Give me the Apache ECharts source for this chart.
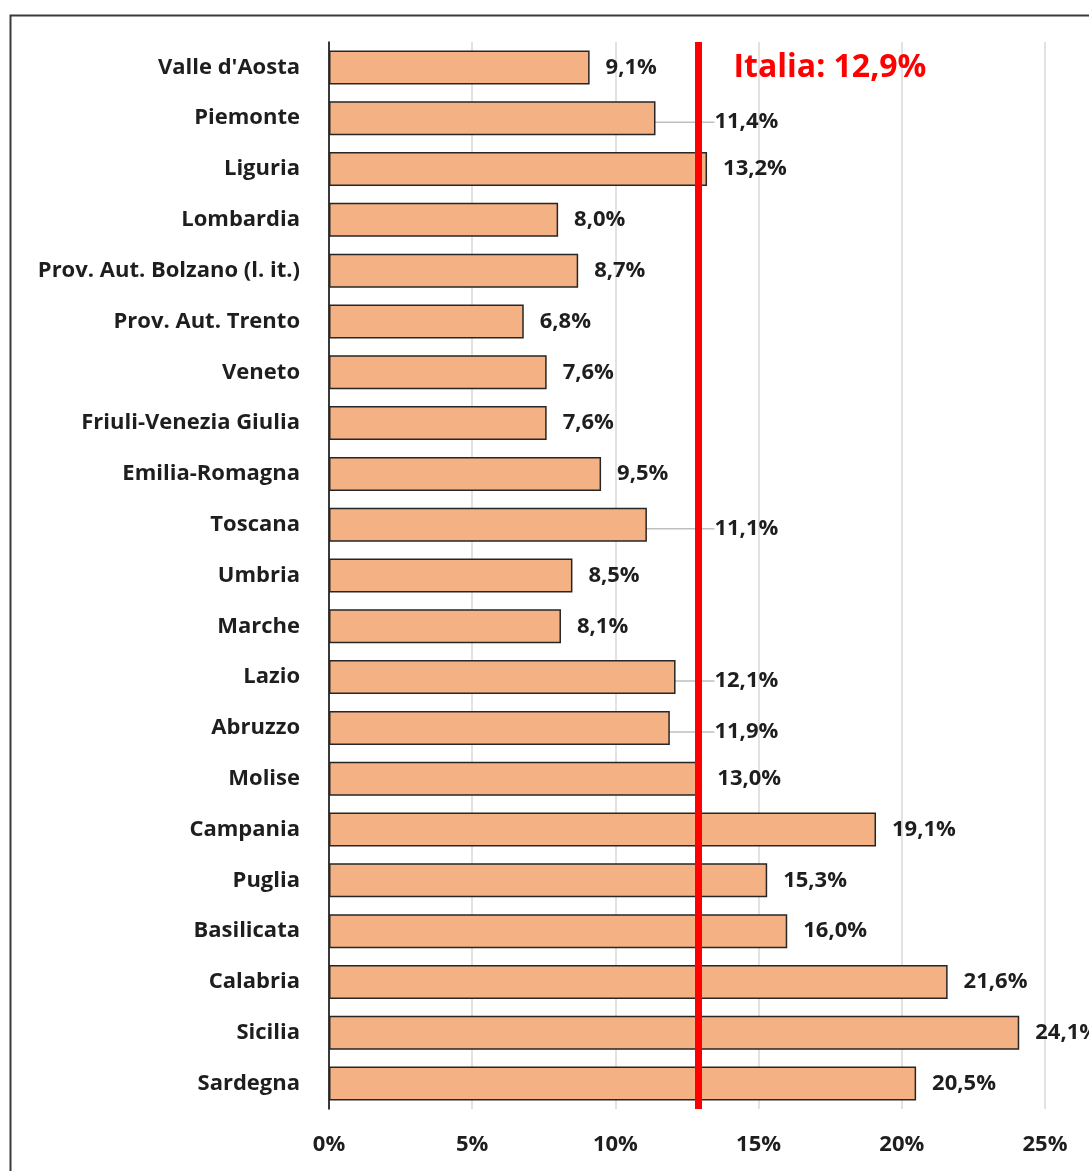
<!DOCTYPE html>
<html>
<head>
<meta charset="utf-8">
<script src="https://cdn.jsdelivr.net/npm/echarts@6/dist/echarts.min.js"></script>
<style>
  html, body { margin: 0; padding: 0; background: #ffffff; }
  #chart { width: 1089px; height: 1171px; }
</style>
</head>
<body>
<div id="chart"></div>
<script>
// Regional shares, top to bottom
const regions = [
  "Valle d'Aosta", "Piemonte", "Liguria", "Lombardia", "Prov. Aut. Bolzano (l. it.)",
  "Prov. Aut. Trento", "Veneto", "Friuli-Venezia Giulia", "Emilia-Romagna", "Toscana",
  "Umbria", "Marche", "Lazio", "Abruzzo", "Molise", "Campania", "Puglia", "Basilicata",
  "Calabria", "Sicilia", "Sardegna"
];
const shares = [
  9.1, 11.4, 13.2, 8.0, 8.7,
  6.8, 7.6, 7.6, 9.5, 11.1,
  8.5, 8.1, 12.1, 11.9, 13.0, 19.1, 15.3, 16.0,
  21.6, 24.1, 20.5
];
// National reference value
const italia = 12.9;
const italiaLabel = 'Italia: 12,9%';
// Value axis range and step (percent)
const axisMin = 0;
const axisMax = 25;
const axisStep = 5;

const FONT = '"Open Sans", "Noto Sans", sans-serif';
const TEXT = '#1e1e1e';
const FS = 22;
const fmt = v => v.toFixed(1).replace('.', ',') + '%';

// indices of value labels pushed to the right of the national line
const moved = new Set();

const chart = echarts.init(document.getElementById('chart'), null, { renderer: 'canvas' });

function barData() {
  return shares.map((v, i) => ({ value: v, labelLine: { show: moved.has(i) } }));
}

chart.setOption({
  animation: false,
  backgroundColor: '#ffffff',
  textStyle: { fontFamily: FONT },
  graphic: [{
    type: 'rect',
    left: 8, top: 13,
    shape: { width: 1200, height: 1200 },
    style: { fill: 'none', stroke: '#3a3a3a', lineWidth: 2 },
    silent: true,
    z: -10
  }],
  grid: { left: 329, right: 44, top: 42, bottom: 62, containLabel: false },
  xAxis: {
    type: 'value',
    min: axisMin, max: axisMax, interval: axisStep,
    axisLine: { show: false },
    axisTick: { show: false },
    splitLine: { show: true, lineStyle: { color: '#d9d9d9', width: 1.5 } },
    axisLabel: {
      margin: 25,
      fontFamily: FONT, fontSize: FS, fontWeight: 'bold', color: TEXT,
      formatter: v => v + '%'
    }
  },
  yAxis: {
    type: 'category',
    data: regions,
    inverse: true,
    axisLine: { show: true, lineStyle: { color: '#000000', width: 1.5 } },
    axisTick: { show: false },
    axisLabel: {
      margin: 29,
      fontFamily: FONT, fontSize: FS, fontWeight: 'bold', color: TEXT
    }
  },
  series: [{
    type: 'bar',
    data: barData(),
    barWidth: 34,
    itemStyle: { color: '#F4B183', borderColor: '#262626', borderWidth: 1.5 },
    label: {
      show: true,
      position: 'right',
      distance: 16,
      fontFamily: FONT, fontSize: FS, fontWeight: 'bold', color: TEXT,
      formatter: p => fmt(p.value)
    },
    labelLine: { lineStyle: { color: '#bfbfbf', width: 1.5 } },
    // Labels that would collide with the national line are pushed past it
    labelLayout: function (params) {
      const v = shares[params.dataIndex];
      const r = params.rect;
      const lineX = r.x + r.width * italia / v;
      const lr = params.labelRect;
      if (lr.x < lineX + 14 && lr.x + lr.width > lineX - 6) {
        moved.add(params.dataIndex);
        return {
          x: lineX + 16,
          y: r.y + r.height / 2 + 4,
          align: 'left',
          verticalAlign: 'middle'
        };
      }
      return {};
    },
    markLine: {
      silent: true,
      symbol: ['none', 'none'],
      z: 10,
      label: { show: false },
      lineStyle: { color: '#ff0000', width: 7, type: 'solid' },
      data: [{ xAxis: italia }]
    },
    markPoint: {
      silent: true,
      symbol: 'circle',
      symbolSize: 0,
      data: [{
        coord: [italia, regions[0]],
        label: {
          show: true,
          position: 'right',
          distance: 35,
          formatter: italiaLabel,
          fontFamily: FONT, fontSize: 32, fontWeight: 'bold', color: '#ff0000'
        }
      }]
    }
  }]
});

// second pass: leader lines only for the labels that were moved
chart.setOption({ series: [{ data: barData() }] });
</script>
</body>
</html>
